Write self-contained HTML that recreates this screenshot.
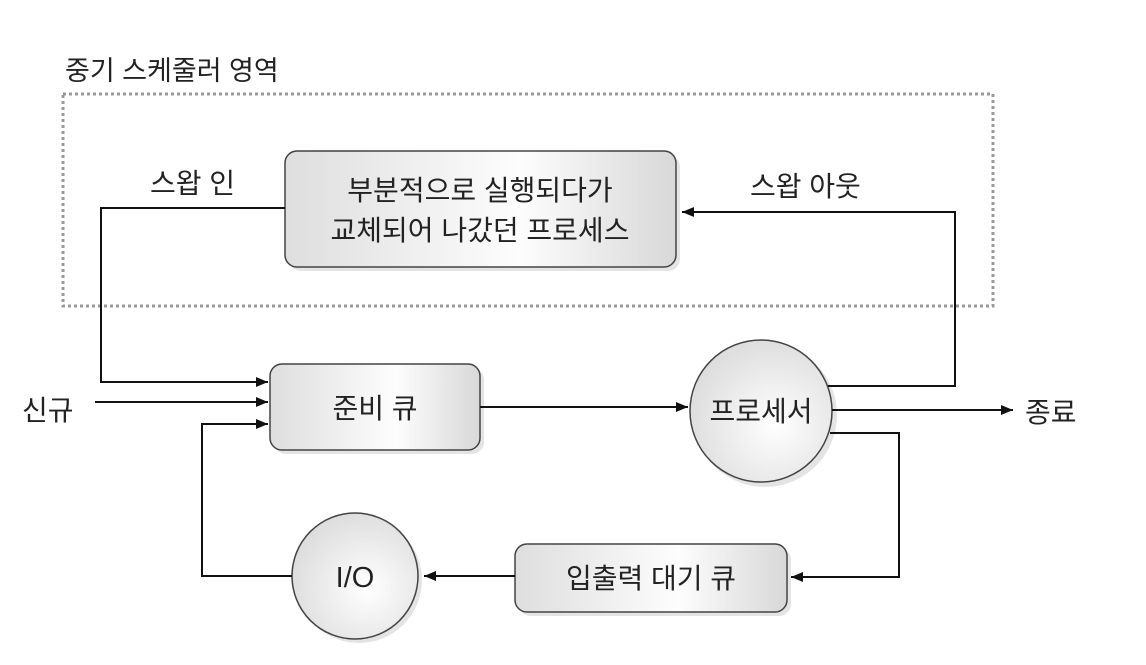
<!DOCTYPE html>
<html><head><meta charset="utf-8"><style>
body{margin:0;background:#fff;}
svg text{font-family:"Liberation Sans","Noto Sans CJK KR",sans-serif;fill:#222;}
</style></head><body>
<svg width="1146" height="660" viewBox="0 0 1146 660" xmlns="http://www.w3.org/2000/svg">
<defs>
<linearGradient id="g" x1="0" y1="0" x2="1" y2="0">
<stop offset="0" stop-color="#dedede"/><stop offset="0.6" stop-color="#fdfdfd"/><stop offset="1" stop-color="#d8d8d8"/>
</linearGradient>
<radialGradient id="rg" cx="0.6" cy="0.6" r="0.75">
<stop offset="0" stop-color="#ffffff"/><stop offset="1" stop-color="#d6d6d6"/>
</radialGradient>
<marker id="a" markerWidth="12" markerHeight="10" refX="12" refY="5" orient="auto" markerUnits="userSpaceOnUse">
<path d="M0,0 L12,5 L0,10 Z" fill="#111"/></marker>
</defs>
<text x="65" y="80" font-size="27">중기 스케줄러 영역</text>
<rect x="63" y="94" width="930" height="212" fill="none" stroke="#999" stroke-width="3" stroke-dasharray="3,3"/>
<rect x="289" y="155" width="391" height="116" rx="12" fill="#e4e4e4"/>
<rect x="274" y="368" width="210" height="86" rx="12" fill="#e4e4e4"/>
<rect x="519" y="548" width="272" height="68" rx="12" fill="#e4e4e4"/>
<circle cx="765" cy="415" r="72" fill="#e4e4e4"/>
<circle cx="359" cy="580" r="63" fill="#e4e4e4"/>
<rect x="285" y="151" width="391" height="116" rx="12" fill="url(#g)" stroke="#444" stroke-width="1.5"/>
<text x="480" y="200" font-size="28" text-anchor="middle">부분적으로 실행되다가</text>
<text x="480" y="240" font-size="28" text-anchor="middle">교체되어 나갔던 프로세스</text>
<rect x="270" y="364" width="210" height="86" rx="12" fill="url(#g)" stroke="#444" stroke-width="1.5"/>
<text x="375" y="418" font-size="28" text-anchor="middle">준비 큐</text>
<rect x="515" y="544" width="272" height="68" rx="12" fill="url(#g)" stroke="#444" stroke-width="1.5"/>
<text x="651" y="588" font-size="28" text-anchor="middle">입출력 대기 큐</text>
<circle cx="761" cy="411" r="71" fill="url(#rg)" stroke="#444" stroke-width="1.5"/>
<text x="761" y="421" font-size="28" text-anchor="middle">프로세서</text>
<circle cx="355" cy="576" r="63" fill="url(#rg)" stroke="#444" stroke-width="1.5"/>
<text x="355" y="587" font-size="29" text-anchor="middle">I/O</text>
<g stroke="#111" stroke-width="2" fill="none">
<polyline points="285,208 101,208 101,382 268,382" marker-end="url(#a)"/>
<line x1="95" y1="402" x2="268" y2="402" marker-end="url(#a)"/>
<polyline points="292,576 202,576 202,424 268,424" marker-end="url(#a)"/>
<line x1="480" y1="407" x2="688" y2="407" marker-end="url(#a)"/>
<polyline points="828,386 955,386 955,212 682,212" marker-end="url(#a)"/>
<line x1="832" y1="410" x2="1013" y2="410" marker-end="url(#a)"/>
<polyline points="830,433 899,433 899,577 791,577" marker-end="url(#a)"/>
<line x1="515" y1="576" x2="424" y2="576" marker-end="url(#a)"/>
</g>
<text x="150" y="193" font-size="28">스왑 인</text>
<text x="750" y="196" font-size="28">스왑 아웃</text>
<text x="22" y="420" font-size="28">신규</text>
<text x="1025" y="422" font-size="28">종료</text>
</svg>
</body></html>
